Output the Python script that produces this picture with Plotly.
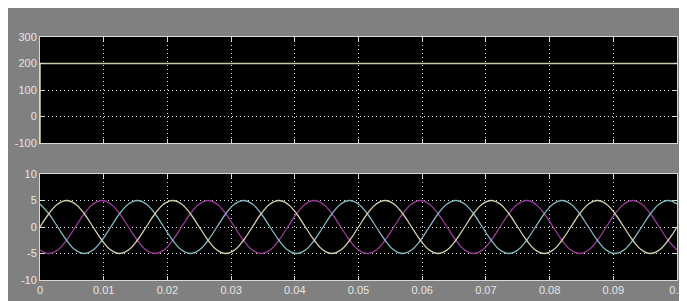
import numpy as np
import plotly.graph_objects as go

# ---- data ----
# top trace: DC level (jumps at t=0)
dc_time = [0.0, 0.0, 0.1]
dc_value = [-100, 200, 200]

# bottom traces: three-phase, 60 Hz, amplitude 5, sampled every 30 degrees
n_periods = 6
one_period_a = [0, 2.5, 4.33, 5, 4.33, 2.5, 0, -2.5, -4.33, -5, -4.33, -2.5]
one_period_b = [4.33, 2.5, 0, -2.5, -4.33, -5, -4.33, -2.5, 0, 2.5, 4.33, 5]
one_period_c = [-4.33, -5, -4.33, -2.5, 0, 2.5, 4.33, 5, 4.33, 2.5, 0, -2.5]
phase_a = one_period_a * n_periods + [0]
phase_b = one_period_b * n_periods + [4.33]
phase_c = one_period_c * n_periods + [-4.33]
wave_time = np.linspace(0.0, 0.1, len(phase_a))

x_ticks = [0, 0.01, 0.02, 0.03, 0.04, 0.05, 0.06, 0.07, 0.08, 0.09, 0.1]
x_tick_labels = ["0", "0.01", "0.02", "0.03", "0.04", "0.05", "0.06", "0.07", "0.08", "0.09", "0.1"]
top_y_ticks = [-100, 0, 100, 200, 300]
bot_y_ticks = [-10, -5, 0, 5, 10]

# ---- styling ----
GRAY = "#808080"
AXC = "#d8d8d8"
TXT = "#e6e6e6"
YEL = "#d0d0ac"
CYA = "#80b8bc"
MAG = "#983c98"

fig = go.Figure()
fig.add_trace(go.Scatter(x=dc_time, y=dc_value, mode="lines",
                         line=dict(color="#c8c8a4", width=1.6),
                         xaxis="x", yaxis="y", showlegend=False))
for vals, col in [(phase_c, MAG), (phase_b, CYA), (phase_a, YEL)]:
    fig.add_trace(go.Scatter(x=wave_time, y=vals, mode="lines",
                             line=dict(color=col, width=1.3, shape="spline", smoothing=1.3),
                             xaxis="x2", yaxis="y2", showlegend=False))

axis_common = dict(showline=True, linecolor=AXC, linewidth=1, mirror="ticks",
                   ticks="inside", ticklen=4, tickcolor=AXC, automargin=False,
                   showgrid=True, gridcolor="#e0e0e0", griddash="1px,3px", gridwidth=1,
                   ticklabeloverflow="allow",
                   zeroline=False, tickfont=dict(family="Liberation Sans", size=11, color=TXT))

# page is offset by the 8px body margin; figure sized to fit the window
top_dom = [(272 - 135) / 243, 1.0]
bot_dom = [0.0, (272 - 166) / 243]

fig.update_layout(
    width=679, height=293,
    margin=dict(l=32, r=10, t=29, b=21, autoexpand=False),
    paper_bgcolor=GRAY, plot_bgcolor="black",
    xaxis=dict(domain=[0, 1], range=[0, 0.1], anchor="y", tickvals=x_ticks,
               showticklabels=False, **axis_common),
    yaxis=dict(domain=top_dom, range=[-100, 300], anchor="x", tickvals=top_y_ticks,
               ticktext=[str(v) for v in top_y_ticks], **axis_common),
    xaxis2=dict(domain=[0, 1], range=[0, 0.1], anchor="y2", tickvals=x_ticks,
                ticktext=x_tick_labels, **axis_common),
    yaxis2=dict(domain=bot_dom, range=[-10, 10], anchor="x2", tickvals=bot_y_ticks,
                ticktext=[str(v) for v in bot_y_ticks], **axis_common),
)

fig.write_html("out.html")
